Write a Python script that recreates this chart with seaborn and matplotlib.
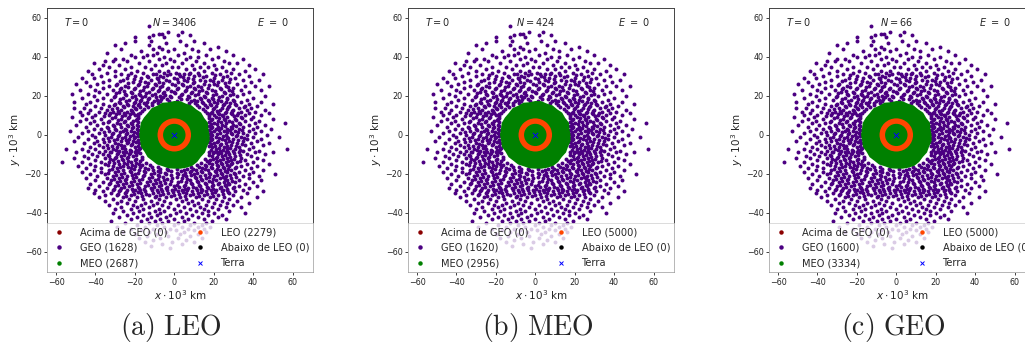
import numpy as np
import pandas as pd
import matplotlib
matplotlib.use("Agg")
import matplotlib.pyplot as plt
import seaborn as sns
from matplotlib.lines import Line2D
from matplotlib.patches import Wedge

# ---------------- data ----------------
panel_tags = ["(a) LEO", "(b) MEO", "(c) GEO"]
n_total = [3406, 424, 66]
time_T = [0, 0, 0]
energy_E = [0, 0, 0]
count_acima = [0, 0, 0]
count_geo = [1628, 1620, 1600]
count_meo = [2687, 2956, 3334]
count_leo = [2279, 5000, 5000]
count_abaixo = [0, 0, 0]

# outer edge of the dense MEO cloud (10^3 km), by angle in degrees
meo_edge_deg = [0, 10, 20, 30, 40, 50, 60, 70, 80, 90, 100, 110,
                120, 130, 140, 150, 160, 170, 180, 190, 200, 210, 220, 230,
                240, 250, 260, 270, 280, 290, 300, 310, 320, 330, 340, 350]
meo_edge_r = [17.9, 17.6, 18.2, 17.5, 17.8, 17.2, 17.5, 17.1, 17.6, 17.4, 17.0, 17.6,
              17.3, 17.9, 17.5, 17.8, 18.1, 17.7, 17.9, 17.6, 18.0, 17.4, 17.7, 17.3,
              17.5, 17.1, 17.4, 17.3, 17.6, 17.9, 18.3, 18.1, 17.6, 18.0, 17.7, 18.2]
# LEO ring radii (10^3 km)
leo_ring = [5.7, 8.5]

# GEO debris positions (10^3 km): rows of (y, [x, ...])
geo_rows = [
    (56, [-13]), (53, [-3, 4]), (52, [-8, -6]), (51, [-11, 2, 8]), (50, [-20, -13, -5]),
    (48, [-20, -12, 3, 10]), (47, [-25, -4, 15]), (46, [-30, -13, 6]), (45, [-8, 22]),
    (44, [-27, -11, -6, 0, 9, 18]), (43, [-17, -3, 12, 26]), (42, [-34, -9, 5]),
    (41, [-22, -14, -11, 2, 16, 30]), (40, [-20, -16, -5, 8, 12, 22]),
    (39, [-30, -26, -8, -2, 6, 19, 35]), (38, [-35, -31, -24, -13, 0, 11, 25]),
    (37, [-41, -18, -4, 4, 15, 28, 32]), (36, [-36, -28, -10, -6, 9, 20, 38]),
    (35, [-33, -22, -15, -1, 2, 13, 17, 24]), (34, [-38, -25, -12, 6, 10, 21, 30, 41]),
    (33, [-44, -30, -19, -8, -3, 15, 26, 36]), (32, [-34, -22, -16, -5, 1, 8, 12, 19, 29]),
    (31, [-42, -27, -11, -2, 5, 23, 33, 45]), (30, [-37, -30, -20, -14, -7, 3, 10, 16, 27, 38]),
    (29, [-47, -41, -24, -17, -9, 0, 7, 20, 31]), (28, [-33, -26, -12, -4, 5, 13, 18, 24, 35, 43]),
    (27, [-45, -36, -21, -15, -8, 2, 10, 22, 28, 39]), (26, [-50, -39, -29, -18, -10, -1, 4, 15, 20, 32]),
    (25, [-43, -33, -25, -14, -6, 8, 12, 26, 36, 41, 48]), (24, [-36, -27, -20, -11, -3, 2, 10, 17, 23, 30]),
    (23, [-48, -40, -31, -16, -8, 6, 14, 19, 28, 34, 44]), (22, [-38, -28, -22, -13, -5, 0, 9, 16, 25, 38]),
    (21, [-52, -44, -34, -25, -18, -10, 4, 12, 21, 30, 35]), (20, [-41, -30, -20, -15, -7, -2, 7, 15, 24, 32, 46]),
    (19, [-47, -36, -26, -13, 13, 19, 27, 40]), (18, [-39, -32, -23, -17, -9, 10, 17, 22, 30, 37]),
    (17, [-51, -43, -28, -20, -14, 14, 20, 26, 34, 44]), (16, [-45, -36, -30, -24, -18, 18, 25, 31, 38, 50]),
    (15, [-40, -33, -26, -21, 21, 28, 36, 42]), (14, [-51, -46, -37, -29, -20, 20, 24, 33, 39]),
    (13, [-43, -34, -27, -22, 23, 30, 37, 46]), (12, [-48, -38, -31, -24, 19, 26, 34, 41]),
    (11, [-44, -35, -28, -21, 22, 29, 38, 48]), (10, [-47, -40, -33, -25, -20, 20, 24, 32, 36, 44]),
    (9, [-52, -42, -30, -23, 21, 27, 34, 40]), (8, [-45, -37, -27, -19, 19, 25, 31, 39, 50]),
    (7, [-48, -41, -33, -25, -21, 22, 28, 36, 43]), (6, [-43, -36, -29, -22, 20, 26, 33, 41, 56]),
    (5, [-50, -39, -31, -24, -19, 24, 30, 38, 46]), (4, [-45, -34, -27, -21, 19, 22, 29, 35, 42]),
    (3, [-41, -37, -30, -25, -19, 21, 27, 33, 40, 49]), (2, [-53, -44, -33, -26, -22, 20, 25, 31, 38, 44]),
    (1, [-47, -38, -31, -24, -19, 23, 29, 35, 41]), (0, [-42, -35, -28, -21, 19, 26, 32, 37, 47]),
    (-1, [-49, -40, -32, -25, -20, 21, 27, 34, 40, 53]), (-2, [-44, -36, -29, -23, 19, 24, 30, 37, 44]),
    (-3, [-51, -39, -33, -27, -21, 22, 28, 35, 42]), (-4, [-46, -41, -30, -24, -18, 20, 26, 32, 39, 48]),
    (-5, [-38, -34, -27, -22, 23, 29, 36, 45]), (-6, [-43, -36, -29, -20, 19, 25, 33, 40]),
    (-7, [-55, -47, -40, -31, -25, -18, 21, 27, 31, 38, 57]), (-8, [-44, -35, -28, -22, 23, 30, 35, 43]),
    (-9, [-50, -38, -32, -26, -20, 20, 26, 33, 41, 50]), (-10, [-42, -36, -29, -23, 22, 28, 37, 46]),
    (-11, [-46, -39, -33, -27, -21, 19, 24, 31, 39]), (-12, [-51, -44, -35, -30, -24, 21, 27, 34, 42]),
    (-13, [-40, -31, -26, -20, 18, 23, 29, 36, 45]), (-14, [-57, -47, -37, -33, -22, 21, 26, 32, 40]),
    (-15, [-43, -35, -28, -24, -18, 19, 24, 29, 37, 48]), (-16, [-49, -40, -31, -26, -20, 16, 22, 28, 34, 42]),
    (-17, [-45, -37, -29, -22, -15, 14, 19, 25, 31, 39]),
    (-18, [-41, -33, -26, -18, -11, -3, 5, 11, 17, 23, 29, 36, 45]),
    (-19, [-47, -37, -30, -22, -15, -7, 8, 14, 21, 27, 33, 40]),
    (-20, [-43, -35, -27, -20, -12, -4, 2, 10, 18, 24, 31, 38, 51]),
    (-21, [-39, -31, -24, -16, -8, 6, 13, 20, 26, 35, 43]),
    (-22, [-45, -34, -28, -21, -13, -1, 4, 11, 16, 23, 29, 38]),
    (-23, [-40, -32, -25, -18, -10, -5, 8, 14, 21, 27, 33, 44]),
    (-24, [-36, -29, -22, -14, -7, 2, 6, 12, 19, 25, 31, 40]),
    (-25, [-43, -33, -26, -19, -11, -2, 9, 16, 22, 28, 36]),
    (-26, [-38, -30, -23, -15, -8, 0, 5, 13, 19, 26, 33, 42]),
    (-27, [-44, -34, -27, -18, -12, -4, 7, 11, 17, 23, 30, 38]),
    (-28, [-40, -31, -24, -20, -9, -1, 4, 14, 21, 27, 35]),
    (-29, [-36, -28, -21, -15, -6, 2, 9, 16, 24, 31, 45]),
    (-30, [-41, -32, -25, -17, -11, -3, 6, 12, 19, 28, 37]),
    (-31, [-35, -29, -22, -13, -7, 0, 8, 15, 22, 30]),
    (-32, [-38, -26, -19, -10, -4, 3, 11, 18, 25, 34, 42]),
    (-33, [-31, -23, -16, -8, 1, 6, 14, 21, 28]),
    (-34, [-35, -27, -20, -12, -5, 4, 9, 17, 24, 32]),
    (-35, [-29, -24, -15, -9, -2, 7, 12, 20, 27, 38]),
    (-36, [-33, -21, -17, -11, -6, 2, 10, 16, 23, 30]),
    (-37, [-27, -19, -13, -3, 5, 13, 19, 26, 34]),
    (-38, [-30, -22, -16, -8, 0, 8, 15, 22]), (-39, [-26, -18, -10, -5, 3, 11, 17, 28]),
    (-40, [-31, -21, -13, -7, 1, 6, 14, 20, 36]), (-41, [-24, -16, -9, -2, 9, 17, 24]),
    (-42, [-28, -19, -12, -4, 4, 12, 22]), (-43, [-22, -14, -7, 0, 7, 15, 26]),
    (-44, [-32, -17, -10, -3, 5, 19]), (-45, [-25, -13, -6, 2, 10, 16]),
    (-46, [-19, -9, 0, 8, 14]), (-47, [-29, -15, -5, 4, 12, 18]), (-48, [-22, -11, -2, 7, 15]),
    (-49, [-17, -8, 1, 10]), (-50, [-26, -13, -4, 5, 16]), (-51, [-20, -9, 3, 12]),
    (-52, [-14, -3, 8]), (-53, [-18, -7, 2, 14]), (-54, [-11, 6]), (-55, [-15, -1, 10]),
    (-56, [-6, 4]), (-57, [-12]), (-58, [-2]),
]

# denser inner part of the GEO cloud, read at half-unit rows
geo_rows_inner = [
    (31.5, [-9.5, 2.5, 7.5]), (30.5, [-23.5, -3.5, 12.5, 20.5]),
    (29.5, [-13.5, -5.5, 4.5, 14.5, 24.5]), (28.5, [-20.5, -8.5, 1.5, 9.5, 28.5]),
    (27.5, [-27.5, -17.5, -2.5, 6.5, 15.5, 19.5]), (26.5, [-23.5, -13.5, -5.5, 9.5, 25.5]),
    (25.5, [-29.5, -18.5, -9.5, 0.5, 4.5, 17.5, 21.5]), (24.5, [-23.5, -15.5, -7.5, 6.5, 13.5, 27.5]),
    (23.5, [-27.5, -20.5, -11.5, -3.5, 1.5, 10.5, 23.5]),
    (22.5, [-25.5, -17.5, -8.5, -1.5, 5.5, 12.5, 20.5, 29.5]),
    (21.5, [-29.5, -21.5, -14.5, -5.5, 0.5, 8.5, 16.5, 25.5]),
    (20.5, [-24.5, -17.5, -11.5, -4.5, 3.5, 10.5, 19.5, 28.5]),
    (19.5, [-30.5, -21.5, -16.5, -9.5, -5.5, -1.5, 2.5, 7.5, 15.5, 22.5]),
    (18.5, [-27.5, -19.5, -13.5, -6.5, -3.5, 3.5, 6.5, 13.5, 19.5, 26.5]),
    (17.5, [-24.5, -17.5, -10.5, -7.5, -2.5, 1.5, 8.5, 11.5, 17.5, 23.5, 30.5]),
    (16.5, [-27.5, -20.5, -15.5, -11.5, -8.5, 7.5, 10.5, 14.5, 21.5, 28.5]),
    (15.5, [-30.5, -23.5, -18.5, -14.5, -11.5, 11.5, 15.5, 18.5, 24.5, 31.5]),
    (14.5, [-25.5, -17.5, -13.5, 12.5, 16.5, 27.5, 35.5]),
    (13.5, [-31.5, -19.5, -15.5, 14.5, 19.5, 26.5]), (12.5, [-28.5, -21.5, -16.5, 15.5, 21.5, 29.5]),
    (11.5, [-32.5, -25.5, -17.5, 16.5, 18.5, 25.5, 32.5]), (10.5, [-29.5, -22.5, -18.5, 17.5, 22.5, 29.5]),
    (9.5, [-35.5, -26.5, -18.5, 17.5, 24.5, 30.5]), (8.5, [-31.5, -23.5, -18.5, 17.5, 22.5, 34.5]),
    (7.5, [-28.5, -19.5, 18.5, 25.5, 31.5]), (6.5, [-33.5, -25.5, -18.5, 17.5, 23.5, 29.5]),
    (5.5, [-27.5, -21.5, 18.5, 21.5, 33.5]), (4.5, [-30.5, -23.5, -18.5, 17.5, 25.5, 31.5]),
    (3.5, [-33.5, -21.5, 18.5, 23.5, 29.5]), (2.5, [-29.5, -24.5, -18.5, 17.5, 22.5, 28.5, 34.5]),
    (1.5, [-35.5, -27.5, -20.5, 18.5, 26.5, 32.5]), (0.5, [-31.5, -24.5, -18.5, 17.5, 21.5, 29.5]),
    (-0.5, [-28.5, -22.5, -18.5, 18.5, 24.5, 31.5]), (-1.5, [-33.5, -26.5, -20.5, 17.5, 22.5, 27.5, 35.5]),
    (-2.5, [-30.5, -24.5, -18.5, 18.5, 25.5, 32.5]), (-3.5, [-35.5, -23.5, -19.5, 17.5, 21.5, 29.5]),
    (-4.5, [-28.5, -21.5, 18.5, 23.5, 34.5]), (-5.5, [-31.5, -25.5, -18.5, 17.5, 20.5, 26.5, 31.5]),
    (-6.5, [-33.5, -26.5, -17.5, 22.5, 28.5]), (-7.5, [-29.5, -22.5, -19.5, 18.5, 24.5, 33.5]),
    (-8.5, [-32.5, -24.5, -18.5, 17.5, 21.5, 27.5]), (-9.5, [-28.5, -22.5, -17.5, 19.5, 23.5, 30.5]),
    (-10.5, [-33.5, -25.5, -19.5, 17.5, 25.5, 33.5]), (-11.5, [-29.5, -23.5, -16.5, 21.5, 28.5]),
    (-12.5, [-32.5, -26.5, -19.5, -16.5, 15.5, 19.5, 24.5, 30.5]),
    (-13.5, [-28.5, -23.5, -17.5, 16.5, 21.5, 27.5, 33.5]),
    (-14.5, [-30.5, -25.5, -19.5, -14.5, 13.5, 17.5, 23.5, 29.5]),
    (-15.5, [-33.5, -21.5, -16.5, -12.5, 11.5, 15.5, 21.5, 26.5]),
    (-16.5, [-27.5, -23.5, -17.5, -11.5, -8.5, 8.5, 12.5, 18.5, 24.5, 31.5]),
    (-17.5, [-31.5, -20.5, -13.5, -7.5, -3.5, 1.5, 6.5, 9.5, 15.5, 21.5, 27.5]),
    (-18.5, [-28.5, -22.5, -15.5, -8.5, -1.5, 3.5, 8.5, 13.5, 20.5, 25.5]),
    (-19.5, [-33.5, -25.5, -18.5, -10.5, -4.5, 1.5, 5.5, 11.5, 17.5, 23.5, 30.5]),
    (-20.5, [-29.5, -21.5, -15.5, -8.5, -1.5, 4.5, 8.5, 15.5, 21.5, 28.5]),
    (-21.5, [-26.5, -19.5, -11.5, -5.5, 1.5, 10.5, 17.5, 24.5, 31.5]),
    (-22.5, [-30.5, -24.5, -16.5, -8.5, -3.5, 6.5, 13.5, 19.5, 25.5]),
    (-23.5, [-27.5, -20.5, -12.5, -1.5, 3.5, 11.5, 17.5, 29.5]),
    (-24.5, [-32.5, -24.5, -17.5, -9.5, -4.5, 8.5, 15.5, 22.5, 27.5]),
    (-25.5, [-28.5, -21.5, -13.5, -6.5, 1.5, 5.5, 12.5, 19.5, 25.5]),
    (-26.5, [-25.5, -18.5, -10.5, -3.5, 2.5, 9.5, 16.5, 23.5, 30.5]),
    (-27.5, [-30.5, -21.5, -15.5, -6.5, 0.5, 5.5, 13.5, 19.5, 26.5]),
    (-28.5, [-27.5, -17.5, -11.5, -3.5, 6.5, 11.5, 18.5, 24.5]),
    (-29.5, [-24.5, -18.5, -8.5, -0.5, 4.5, 13.5, 20.5, 27.5]),
    (-30.5, [-28.5, -20.5, -14.5, -5.5, 2.5, 9.5, 16.5, 24.5]),
    (-31.5, [-24.5, -16.5, -9.5, -1.5, 5.5, 12.5, 19.5]),
]

# ---------------- styling ----------------
sns.set_theme(style="ticks")
plt.rcParams["font.family"] = ["DejaVu Sans"]
plt.rcParams["mathtext.fontset"] = "dejavusans"

COL_ACIMA = "darkred"
COL_GEO = "indigo"
COL_MEO = "green"
COL_LEO = "orangered"
COL_ABAIXO = "black"
COL_TERRA = "blue"

geo_df = pd.DataFrame(
    [(x, y) for y, xs in geo_rows + geo_rows_inner for x in xs], columns=["x", "y"]
)
earth_df = pd.DataFrame({"x": [0.0], "y": [0.0]})

theta = np.deg2rad(np.array(meo_edge_deg + [meo_edge_deg[0]]))
r_edge = np.array(meo_edge_r + [meo_edge_r[0]])
meo_x = r_edge * np.cos(theta)
meo_y = r_edge * np.sin(theta)

fig = plt.figure(figsize=(10.25, 3.56), dpi=100)
W, H = 1025.0, 356.0
ax_left_px = [47, 408, 769]
ax_w_px, ax_top_px, ax_bot_px = 266, 8, 272
cap_x_px = [171, 538, 893]

for i in range(3):
    ax = fig.add_axes([ax_left_px[i] / W, 1 - ax_bot_px / H,
                       ax_w_px / W, (ax_bot_px - ax_top_px) / H])
    sns.scatterplot(data=geo_df, x="x", y="y", color=COL_GEO, s=8,
                    linewidth=0, ax=ax, legend=False, zorder=2)
    ax.fill(meo_x, meo_y, color=COL_MEO, lw=0, zorder=3)
    ax.add_patch(Wedge((0, 0), leo_ring[1], 0, 360,
                       width=leo_ring[1] - leo_ring[0],
                       facecolor=COL_LEO, edgecolor="none", zorder=4))
    sns.scatterplot(data=earth_df, x="x", y="y", color=COL_TERRA, marker="x",
                    s=14, linewidth=0.7, ax=ax, legend=False, zorder=5)

    ax.set_xlim(-64.6, 70.4)
    ax.set_ylim(-70.3, 65.1)
    ax.set_xticks([-60, -40, -20, 0, 20, 40, 60])
    ax.set_yticks([-60, -40, -20, 0, 20, 40, 60])
    ax.tick_params(labelsize=5.8, length=2.5, width=0.6, pad=1.5,
                   colors="#222222")
    for sp in ax.spines.values():
        sp.set_linewidth(0.7)
        sp.set_color("#444444")
    ax.set_xlabel(r"$x \cdot 10^3$ km", fontsize=7.5, labelpad=1.5)
    ax.set_ylabel(r"$y \cdot 10^3$ km", fontsize=7.5, labelpad=1)

    ax.text(0.11, 0.947, rf"$T = {time_T[i]}$", transform=ax.transAxes,
            ha="center", va="center", fontsize=7)
    ax.text(0.48, 0.947, rf"$N = {n_total[i]}$", transform=ax.transAxes,
            ha="center", va="center", fontsize=7)
    ax.text(0.85, 0.947, rf"$E\ =\ {energy_E[i]}$", transform=ax.transAxes,
            ha="center", va="center", fontsize=7)

    handles = [
        Line2D([], [], ls="", marker="o", ms=2.2, color=COL_ACIMA),
        Line2D([], [], ls="", marker="o", ms=2.2, color=COL_GEO),
        Line2D([], [], ls="", marker="o", ms=2.2, color=COL_MEO),
        Line2D([], [], ls="", marker="o", ms=2.2, color=COL_LEO),
        Line2D([], [], ls="", marker="o", ms=2.2, color=COL_ABAIXO),
        Line2D([], [], ls="", marker="x", ms=3.5, mew=0.7, color=COL_TERRA),
    ]
    labels = [
        f"Acima de GEO ({count_acima[i]})",
        f"GEO ({count_geo[i]})",
        f"MEO ({count_meo[i]})",
        f"LEO ({count_leo[i]})",
        f"Abaixo de LEO ({count_abaixo[i]})",
        "Terra",
    ]
    leg = ax.legend(handles, labels, loc="lower left",
                    bbox_to_anchor=(0, 0, 1, 0.186), mode="expand", ncol=2,
                    fontsize=7.1, frameon=True, framealpha=0.8,
                    borderaxespad=0, handlelength=1.6, handletextpad=1.3,
                    labelspacing=0.55, borderpad=0.4, fancybox=False)
    leg.get_frame().set_edgecolor("#cccccc")
    leg.get_frame().set_linewidth(0.6)
    leg.set_zorder(10)

    fig.text(cap_x_px[i] / W, 1 - 328 / H,
             r"$\mathrm{" + panel_tags[i].replace(" ", r"\ ") + "}$",
             ha="center", va="center", fontsize=20, math_fontfamily="cm")

fig.savefig("out.png", dpi=100)
